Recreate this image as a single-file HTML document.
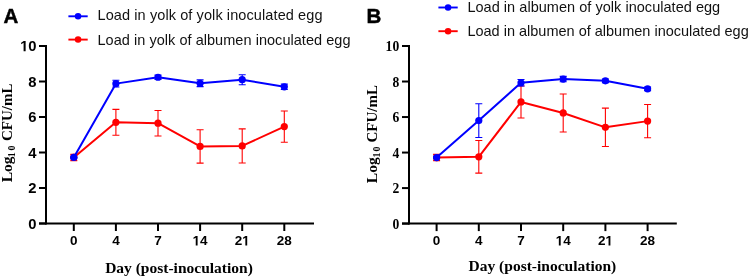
<!DOCTYPE html>
<html><head><meta charset="utf-8"><style>
html,body{margin:0;padding:0;background:#fff;width:749px;height:278px;overflow:hidden}
svg{display:block}
</style></head><body>
<svg width="749" height="278" viewBox="0 0 749 278" style="will-change:transform">
<rect width="749" height="278" fill="#fff"/>
<line x1="46.00" y1="45.00" x2="46.00" y2="224.50" stroke="#000" stroke-width="2.0"/>
<line x1="39.00" y1="223.50" x2="314.00" y2="223.50" stroke="#000" stroke-width="2.0"/>
<line x1="39.00" y1="223.50" x2="46.00" y2="223.50" stroke="#000" stroke-width="2.0"/>
<text x="28.37" y="228.80" font-family='"Liberation Sans", sans-serif' font-weight="bold" font-size="14.8">0</text>
<line x1="39.00" y1="188.00" x2="46.00" y2="188.00" stroke="#000" stroke-width="2.0"/>
<text x="28.37" y="193.30" font-family='"Liberation Sans", sans-serif' font-weight="bold" font-size="14.8">2</text>
<line x1="39.00" y1="152.50" x2="46.00" y2="152.50" stroke="#000" stroke-width="2.0"/>
<text x="28.37" y="157.80" font-family='"Liberation Sans", sans-serif' font-weight="bold" font-size="14.8">4</text>
<line x1="39.00" y1="117.00" x2="46.00" y2="117.00" stroke="#000" stroke-width="2.0"/>
<text x="28.37" y="122.30" font-family='"Liberation Sans", sans-serif' font-weight="bold" font-size="14.8">6</text>
<line x1="39.00" y1="81.50" x2="46.00" y2="81.50" stroke="#000" stroke-width="2.0"/>
<text x="28.37" y="86.80" font-family='"Liberation Sans", sans-serif' font-weight="bold" font-size="14.8">8</text>
<line x1="39.00" y1="46.00" x2="46.00" y2="46.00" stroke="#000" stroke-width="2.0"/>
<path d="M478 0V1170L140 959V1180L493 1409H759V0Z" transform="translate(20.14,51.30) scale(0.00723,-0.00723)" fill="#000"/><text x="28.37" y="51.30" font-family='"Liberation Sans", sans-serif' font-weight="bold" font-size="14.8">0</text>
<line x1="73.80" y1="223.50" x2="73.80" y2="231.00" stroke="#000" stroke-width="2.0"/>
<text x="70.05" y="245.40" font-family='"Liberation Sans", sans-serif' font-weight="bold" font-size="13.5">0</text>
<line x1="115.90" y1="223.50" x2="115.90" y2="231.00" stroke="#000" stroke-width="2.0"/>
<text x="112.15" y="245.40" font-family='"Liberation Sans", sans-serif' font-weight="bold" font-size="13.5">4</text>
<line x1="158.00" y1="223.50" x2="158.00" y2="231.00" stroke="#000" stroke-width="2.0"/>
<text x="154.25" y="245.40" font-family='"Liberation Sans", sans-serif' font-weight="bold" font-size="13.5">7</text>
<line x1="200.10" y1="223.50" x2="200.10" y2="231.00" stroke="#000" stroke-width="2.0"/>
<path d="M478 0V1170L140 959V1180L493 1409H759V0Z" transform="translate(192.59,245.40) scale(0.00659,-0.00659)" fill="#000"/><text x="200.10" y="245.40" font-family='"Liberation Sans", sans-serif' font-weight="bold" font-size="13.5">4</text>
<line x1="242.20" y1="223.50" x2="242.20" y2="231.00" stroke="#000" stroke-width="2.0"/>
<text x="234.69" y="245.40" font-family='"Liberation Sans", sans-serif' font-weight="bold" font-size="13.5">2</text><path d="M478 0V1170L140 959V1180L493 1409H759V0Z" transform="translate(242.20,245.40) scale(0.00659,-0.00659)" fill="#000"/>
<line x1="284.30" y1="223.50" x2="284.30" y2="231.00" stroke="#000" stroke-width="2.0"/>
<text x="276.79" y="245.40" font-family='"Liberation Sans", sans-serif' font-weight="bold" font-size="13.5">2</text><text x="284.30" y="245.40" font-family='"Liberation Sans", sans-serif' font-weight="bold" font-size="13.5">8</text>
<path d="M73.80 154.36V160.58M70.30 154.36H77.30M70.30 160.58H77.30" stroke="#ff0000" stroke-width="1.1" fill="none"/>
<path d="M115.90 109.37V135.28M112.40 109.37H119.40M112.40 135.28H119.40" stroke="#ff0000" stroke-width="1.1" fill="none"/>
<path d="M158.00 110.43V135.99M154.50 110.43H161.50M154.50 135.99H161.50" stroke="#ff0000" stroke-width="1.1" fill="none"/>
<path d="M200.10 129.78V163.15M196.60 129.78H203.60M196.60 163.15H203.60" stroke="#ff0000" stroke-width="1.1" fill="none"/>
<path d="M242.20 128.89V162.97M238.70 128.89H245.70M238.70 162.97H245.70" stroke="#ff0000" stroke-width="1.1" fill="none"/>
<path d="M284.30 110.97V142.20M280.80 110.97H287.80M280.80 142.20H287.80" stroke="#ff0000" stroke-width="1.1" fill="none"/>
<polyline points="73.80,157.47 115.90,122.33 158.00,123.21 200.10,146.47 242.20,145.93 284.30,126.58" stroke="#ff0000" stroke-width="2.0" fill="none" stroke-linejoin="round"/>
<circle cx="73.80" cy="157.47" r="3.6" fill="#ff0000"/>
<circle cx="115.90" cy="122.33" r="3.6" fill="#ff0000"/>
<circle cx="158.00" cy="123.21" r="3.6" fill="#ff0000"/>
<circle cx="200.10" cy="146.47" r="3.6" fill="#ff0000"/>
<circle cx="242.20" cy="145.93" r="3.6" fill="#ff0000"/>
<circle cx="284.30" cy="126.58" r="3.6" fill="#ff0000"/>
<path d="M73.80 156.94V158.00M70.30 156.94H77.30M70.30 158.00H77.30" stroke="#0000ff" stroke-width="1.1" fill="none"/>
<path d="M115.90 80.26V87.00M112.40 80.26H119.40M112.40 87.00H119.40" stroke="#0000ff" stroke-width="1.1" fill="none"/>
<path d="M158.00 75.11V79.37M154.50 75.11H161.50M154.50 79.37H161.50" stroke="#0000ff" stroke-width="1.1" fill="none"/>
<path d="M200.10 79.90V86.65M196.60 79.90H203.60M196.60 86.65H203.60" stroke="#0000ff" stroke-width="1.1" fill="none"/>
<path d="M242.20 74.76V84.70M238.70 74.76H245.70M238.70 84.70H245.70" stroke="#0000ff" stroke-width="1.1" fill="none"/>
<path d="M284.30 84.16V89.49M280.80 84.16H287.80M280.80 89.49H287.80" stroke="#0000ff" stroke-width="1.1" fill="none"/>
<polyline points="73.80,157.47 115.90,83.63 158.00,77.24 200.10,83.28 242.20,79.72 284.30,86.82" stroke="#0000ff" stroke-width="2.0" fill="none" stroke-linejoin="round"/>
<circle cx="73.80" cy="157.47" r="3.6" fill="#0000ff"/>
<circle cx="115.90" cy="83.63" r="3.6" fill="#0000ff"/>
<circle cx="158.00" cy="77.24" r="3.6" fill="#0000ff"/>
<circle cx="200.10" cy="83.28" r="3.6" fill="#0000ff"/>
<circle cx="242.20" cy="79.72" r="3.6" fill="#0000ff"/>
<circle cx="284.30" cy="86.82" r="3.6" fill="#0000ff"/>
<text x="3.40" y="23.00" font-family='"Liberation Sans", sans-serif' font-weight="bold" font-size="20.5" stroke="#000" stroke-width="0.45">A</text>
<line x1="68.40" y1="16.30" x2="87.70" y2="16.30" stroke="#0000ff" stroke-width="1.9"/>
<circle cx="78.05" cy="16.30" r="3.25" fill="#0000ff"/>
<text x="97.50" y="20.20" textLength="225.0" lengthAdjust="spacing" font-family='"Liberation Sans", sans-serif' font-size="14.5" fill="#111">Load in yolk of yolk inoculated egg</text>
<line x1="68.40" y1="39.60" x2="87.70" y2="39.60" stroke="#ff0000" stroke-width="1.9"/>
<circle cx="78.05" cy="39.60" r="3.25" fill="#ff0000"/>
<text x="97.50" y="44.50" textLength="253.0" lengthAdjust="spacing" font-family='"Liberation Sans", sans-serif' font-size="14.5" fill="#111">Load in yolk of albumen inoculated egg</text>
<g transform="translate(11.50,0) rotate(-90)" font-family='"Liberation Serif", serif' font-weight="bold"><text x="-182.30" y="0" font-size="15.5">Log</text><text x="-157.20" y="3.3" font-size="10">1</text><text x="-150.50" y="3.3" font-size="10">0</text><text x="-141.00" y="0" font-size="15">CFU/mL</text></g>
<text x="179.00" y="272.60" text-anchor="middle" font-family='"Liberation Serif", serif' font-weight="bold" font-size="15.5">Day (post-inoculation)</text>
<line x1="409.00" y1="45.00" x2="409.00" y2="224.60" stroke="#000" stroke-width="2.0"/>
<line x1="402.00" y1="223.60" x2="676.80" y2="223.60" stroke="#000" stroke-width="2.0"/>
<line x1="402.00" y1="223.60" x2="409.00" y2="223.60" stroke="#000" stroke-width="2.0"/>
<text x="399.20" y="229.00" text-anchor="end" font-family='"Liberation Serif", serif' font-weight="bold" font-size="13.6">0</text>
<line x1="402.00" y1="188.08" x2="409.00" y2="188.08" stroke="#000" stroke-width="2.0"/>
<text x="399.20" y="193.48" text-anchor="end" font-family='"Liberation Serif", serif' font-weight="bold" font-size="13.6">2</text>
<line x1="402.00" y1="152.56" x2="409.00" y2="152.56" stroke="#000" stroke-width="2.0"/>
<text x="399.20" y="157.96" text-anchor="end" font-family='"Liberation Serif", serif' font-weight="bold" font-size="13.6">4</text>
<line x1="402.00" y1="117.04" x2="409.00" y2="117.04" stroke="#000" stroke-width="2.0"/>
<text x="399.20" y="122.44" text-anchor="end" font-family='"Liberation Serif", serif' font-weight="bold" font-size="13.6">6</text>
<line x1="402.00" y1="81.52" x2="409.00" y2="81.52" stroke="#000" stroke-width="2.0"/>
<text x="399.20" y="86.92" text-anchor="end" font-family='"Liberation Serif", serif' font-weight="bold" font-size="13.6">8</text>
<line x1="402.00" y1="46.00" x2="409.00" y2="46.00" stroke="#000" stroke-width="2.0"/>
<text x="399.20" y="51.40" text-anchor="end" font-family='"Liberation Serif", serif' font-weight="bold" font-size="13.6">10</text>
<line x1="436.60" y1="223.60" x2="436.60" y2="231.10" stroke="#000" stroke-width="2.0"/>
<text x="432.85" y="245.40" font-family='"Liberation Sans", sans-serif' font-weight="bold" font-size="13.5">0</text>
<line x1="478.80" y1="223.60" x2="478.80" y2="231.10" stroke="#000" stroke-width="2.0"/>
<text x="475.05" y="245.40" font-family='"Liberation Sans", sans-serif' font-weight="bold" font-size="13.5">4</text>
<line x1="521.00" y1="223.60" x2="521.00" y2="231.10" stroke="#000" stroke-width="2.0"/>
<text x="517.25" y="245.40" font-family='"Liberation Sans", sans-serif' font-weight="bold" font-size="13.5">7</text>
<line x1="563.20" y1="223.60" x2="563.20" y2="231.10" stroke="#000" stroke-width="2.0"/>
<path d="M478 0V1170L140 959V1180L493 1409H759V0Z" transform="translate(555.69,245.40) scale(0.00659,-0.00659)" fill="#000"/><text x="563.20" y="245.40" font-family='"Liberation Sans", sans-serif' font-weight="bold" font-size="13.5">4</text>
<line x1="605.40" y1="223.60" x2="605.40" y2="231.10" stroke="#000" stroke-width="2.0"/>
<text x="597.89" y="245.40" font-family='"Liberation Sans", sans-serif' font-weight="bold" font-size="13.5">2</text><path d="M478 0V1170L140 959V1180L493 1409H759V0Z" transform="translate(605.40,245.40) scale(0.00659,-0.00659)" fill="#000"/>
<line x1="647.60" y1="223.60" x2="647.60" y2="231.10" stroke="#000" stroke-width="2.0"/>
<text x="640.09" y="245.40" font-family='"Liberation Sans", sans-serif' font-weight="bold" font-size="13.5">2</text><text x="647.60" y="245.40" font-family='"Liberation Sans", sans-serif' font-weight="bold" font-size="13.5">8</text>
<path d="M436.60 154.42V160.64M433.10 154.42H440.10M433.10 160.64H440.10" stroke="#ff0000" stroke-width="1.1" fill="none"/>
<path d="M478.80 140.48V173.16M475.30 140.48H482.30M475.30 173.16H482.30" stroke="#ff0000" stroke-width="1.1" fill="none"/>
<path d="M521.00 85.96V117.93M517.50 85.96H524.50M517.50 117.93H524.50" stroke="#ff0000" stroke-width="1.1" fill="none"/>
<path d="M563.20 93.95V131.96M559.70 93.95H566.70M559.70 131.96H566.70" stroke="#ff0000" stroke-width="1.1" fill="none"/>
<path d="M605.40 108.16V146.52M601.90 108.16H608.90M601.90 146.52H608.90" stroke="#ff0000" stroke-width="1.1" fill="none"/>
<path d="M647.60 104.43V137.82M644.10 104.43H651.10M644.10 137.82H651.10" stroke="#ff0000" stroke-width="1.1" fill="none"/>
<polyline points="436.60,157.53 478.80,156.82 521.00,101.94 563.20,112.96 605.40,127.34 647.60,121.12" stroke="#ff0000" stroke-width="2.0" fill="none" stroke-linejoin="round"/>
<circle cx="436.60" cy="157.53" r="3.6" fill="#ff0000"/>
<circle cx="478.80" cy="156.82" r="3.6" fill="#ff0000"/>
<circle cx="521.00" cy="101.94" r="3.6" fill="#ff0000"/>
<circle cx="563.20" cy="112.96" r="3.6" fill="#ff0000"/>
<circle cx="605.40" cy="127.34" r="3.6" fill="#ff0000"/>
<circle cx="647.60" cy="121.12" r="3.6" fill="#ff0000"/>
<path d="M436.60 157.00V158.07M433.10 157.00H440.10M433.10 158.07H440.10" stroke="#0000ff" stroke-width="1.1" fill="none"/>
<path d="M478.80 103.72V137.46M475.30 103.72H482.30M475.30 137.46H482.30" stroke="#0000ff" stroke-width="1.1" fill="none"/>
<path d="M521.00 79.57V85.96M517.50 79.57H524.50M517.50 85.96H524.50" stroke="#0000ff" stroke-width="1.1" fill="none"/>
<path d="M563.20 76.37V81.70M559.70 76.37H566.70M559.70 81.70H566.70" stroke="#0000ff" stroke-width="1.1" fill="none"/>
<path d="M605.40 79.03V82.59M601.90 79.03H608.90M601.90 82.59H608.90" stroke="#0000ff" stroke-width="1.1" fill="none"/>
<path d="M647.60 87.03V90.58M644.10 87.03H651.10M644.10 90.58H651.10" stroke="#0000ff" stroke-width="1.1" fill="none"/>
<polyline points="436.60,157.53 478.80,120.59 521.00,82.76 563.20,79.03 605.40,80.81 647.60,88.80" stroke="#0000ff" stroke-width="2.0" fill="none" stroke-linejoin="round"/>
<circle cx="436.60" cy="157.53" r="3.6" fill="#0000ff"/>
<circle cx="478.80" cy="120.59" r="3.6" fill="#0000ff"/>
<circle cx="521.00" cy="82.76" r="3.6" fill="#0000ff"/>
<circle cx="563.20" cy="79.03" r="3.6" fill="#0000ff"/>
<circle cx="605.40" cy="80.81" r="3.6" fill="#0000ff"/>
<circle cx="647.60" cy="88.80" r="3.6" fill="#0000ff"/>
<text x="366.40" y="23.20" font-family='"Liberation Sans", sans-serif' font-weight="bold" font-size="20.5" stroke="#000" stroke-width="0.45">B</text>
<line x1="438.40" y1="7.50" x2="457.70" y2="7.50" stroke="#0000ff" stroke-width="1.9"/>
<circle cx="448.05" cy="7.50" r="3.25" fill="#0000ff"/>
<text x="467.40" y="11.80" textLength="252.8" lengthAdjust="spacing" font-family='"Liberation Sans", sans-serif' font-size="14.5" fill="#111">Load in albumen of yolk inoculated egg</text>
<line x1="438.40" y1="31.20" x2="457.70" y2="31.20" stroke="#ff0000" stroke-width="1.9"/>
<circle cx="448.05" cy="31.20" r="3.25" fill="#ff0000"/>
<text x="467.40" y="35.50" font-family='"Liberation Sans", sans-serif' font-size="14.5" fill="#111">Load in albumen of albumen inoculated egg</text>
<g transform="translate(376.50,0) rotate(-90)" font-family='"Liberation Serif", serif' font-weight="bold"><text x="-183.20" y="0" font-size="15.5">Log</text><text x="-157.50" y="3.3" font-size="10">1</text><text x="-151.50" y="3.3" font-size="10">0</text><text x="-142.60" y="0" font-size="15">CFU/mL</text></g>
<text x="542.40" y="271.10" text-anchor="middle" font-family='"Liberation Serif", serif' font-weight="bold" font-size="15.5">Day (post-inoculation)</text>
</svg>
</body></html>
